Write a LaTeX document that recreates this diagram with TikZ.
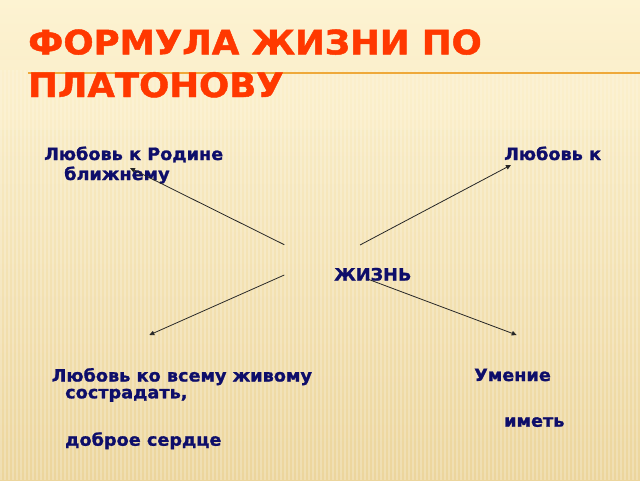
\documentclass[tikz,border=0pt]{standalone}
\usepackage{fontspec}
\setmainfont{DejaVu Sans}
\newfontfamily\hvybody{DejaVu Sans Bold}[FakeBold=1.3, FakeStretch=1.04]
\newfontfamily\hvytitle{DejaVu Sans Bold}[FakeBold=1.4, FakeStretch=1.06]
\usetikzlibrary{arrows.meta}
\definecolor{bgtop}{HTML}{FDF3D2}
\definecolor{bgbot}{HTML}{ECD59C}
\definecolor{titlered}{HTML}{FF3800}
\definecolor{navy}{HTML}{0E0E6A}
\definecolor{rule}{HTML}{EFA93A}
\tikzset{
  body/.style={anchor=base west, inner sep=0pt, text=navy, font=\hvybody\fontsize{17}{20}\selectfont},
  ttl/.style={anchor=base west, inner sep=0pt, text=titlered, font=\hvytitle\fontsize{33.5}{40}\selectfont},
  arr/.style={draw=black!85, line width=0.8pt, -{Triangle[length=5pt,width=4.5pt]}}
}
\begin{document}
\begin{tikzpicture}[x=1pt,y=-1pt]
\useasboundingbox (0,0) rectangle (640,480);
\shade[top color=bgtop, bottom color=bgbot] (0,0) rectangle (640,480);
\foreach \i in {0,4,...,640} {
  \fill[white, opacity=0.22] (\i,70) rectangle (\i+1.6,480);
}
\fill[bgtop, opacity=0.35] (0,60) rectangle (640,130);
\draw[rule, line width=1.4pt] (28,73) -- (640,73);
\node[ttl] (t1) at (28,54.3) {ФОРМУЛА ЖИЗНИ ПО};
\node[ttl] (t2) at (28,97) {ПЛАТОНОВУ};
\node[body] (a1) at (44,160) {Любовь к Родине};
\node[body] (a2) at (64,180) {ближнему};
\node[body] (b1) at (504,160) {Любовь к};
\node[body] (c) at (334,280.5) {ЖИЗНЬ};
\node[body] (d1) at (51.5,381.5) {Любовь ко всему живому};
\node[body] (d2) at (65,398.3) {сострадать,};
\node[body] (d3) at (65,445.7) {доброе сердце};
\node[body] (e1) at (474,381) {Умение};
\node[body] (e2) at (504,426.7) {иметь};
\coordinate (s1) at (284.3,244.7);
\coordinate (s2) at (360,245);
\coordinate (s3) at (284.3,275);
\coordinate (s4) at (368.3,279.3);
\coordinate (p1) at (130,168);
\coordinate (p2) at (511,165);
\coordinate (p3) at (149.3,335);
\coordinate (p4) at (516.7,335);
\draw[arr] (s1) -- (p1);
\draw[arr] (s2) -- (p2);
\draw[arr] (s3) -- (p3);
\draw[arr] (s4) -- (p4);
\end{tikzpicture}
\end{document}
